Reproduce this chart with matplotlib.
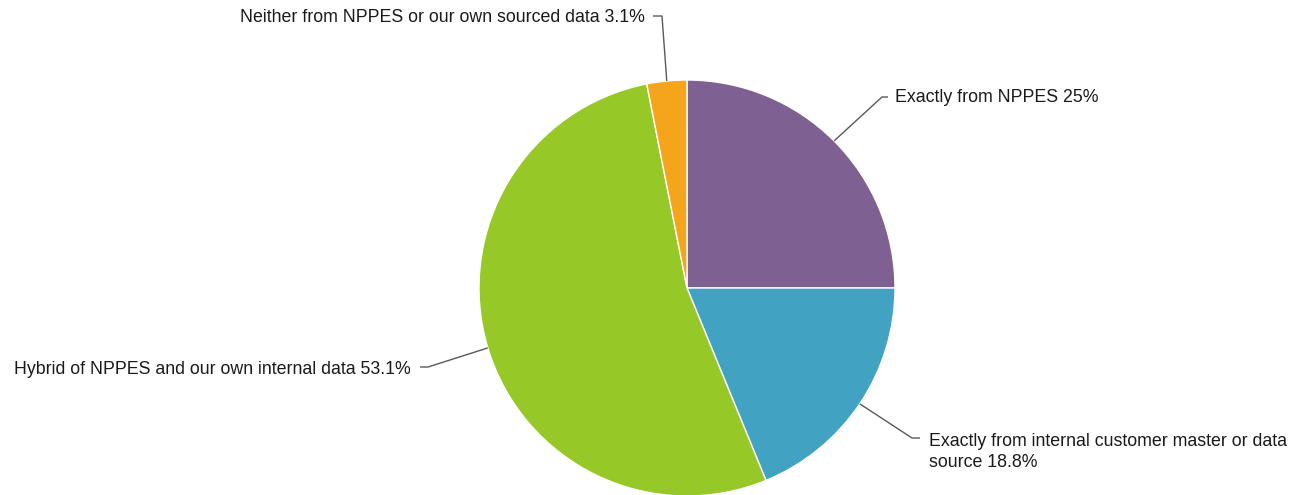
import matplotlib.pyplot as plt
import numpy as np

plt.rcParams['font.family'] = ['Liberation Sans', 'DejaVu Sans']

labels = ['Exactly from NPPES',
          'Exactly from internal customer master or data\nsource',
          'Hybrid of NPPES and our own internal data',
          'Neither from NPPES or our own sourced data']
values = [25.0, 18.8, 53.1, 3.1]
colors = ['#7E6092', '#41A3C1', '#96C828', '#F5A51C']

W, H = 1291, 495
fig = plt.figure(figsize=(W / 100, H / 100), dpi=100)
ax = fig.add_axes([0, 0, 1, 1])
ax.set_xlim(0, W)
ax.set_ylim(0, H)
ax.axis('off')

cx, cy, r = 687, H - 288, 208
wedges, _ = ax.pie(values, colors=colors, startangle=90, counterclock=False,
                   center=(cx, cy), radius=r, frame=True,
                   wedgeprops=dict(edgecolor='white', linewidth=1))
ax.set_xlim(0, W)
ax.set_ylim(0, H)
ax.set_aspect('equal')
ax.axis('off')

# leader line geometry: (elbow x, elbow y, end x offset, text x, ha)
leaders = [
    (882, 97, 888, 895, 'left', 97),
    (912, 438, 920, 929, 'left', 452),
    (428, 367, 420, 411, 'right', 369),
    (662, 16, 653, 645, 'right', 18),
]

lc = '#595959'
for w, val, lab, (ex, ey, hx, tx, ha, ty) in zip(wedges, values, labels, leaders):
    ang = np.deg2rad((w.theta1 + w.theta2) / 2)
    sx = cx + r * np.cos(ang)
    sy = cy + r * np.sin(ang)
    ax.plot([sx, ex, hx], [sy, H - ey, H - ey], color=lc, lw=1, solid_capstyle='butt')
    txt = '%s %s%%' % (lab, ('%g' % val))
    ax.text(tx, H - ty, txt, ha=ha, va='center', fontsize=12.8, color='#1a1a1a',
            linespacing=1.25)

fig.savefig('out.png', dpi=100, facecolor='white')
